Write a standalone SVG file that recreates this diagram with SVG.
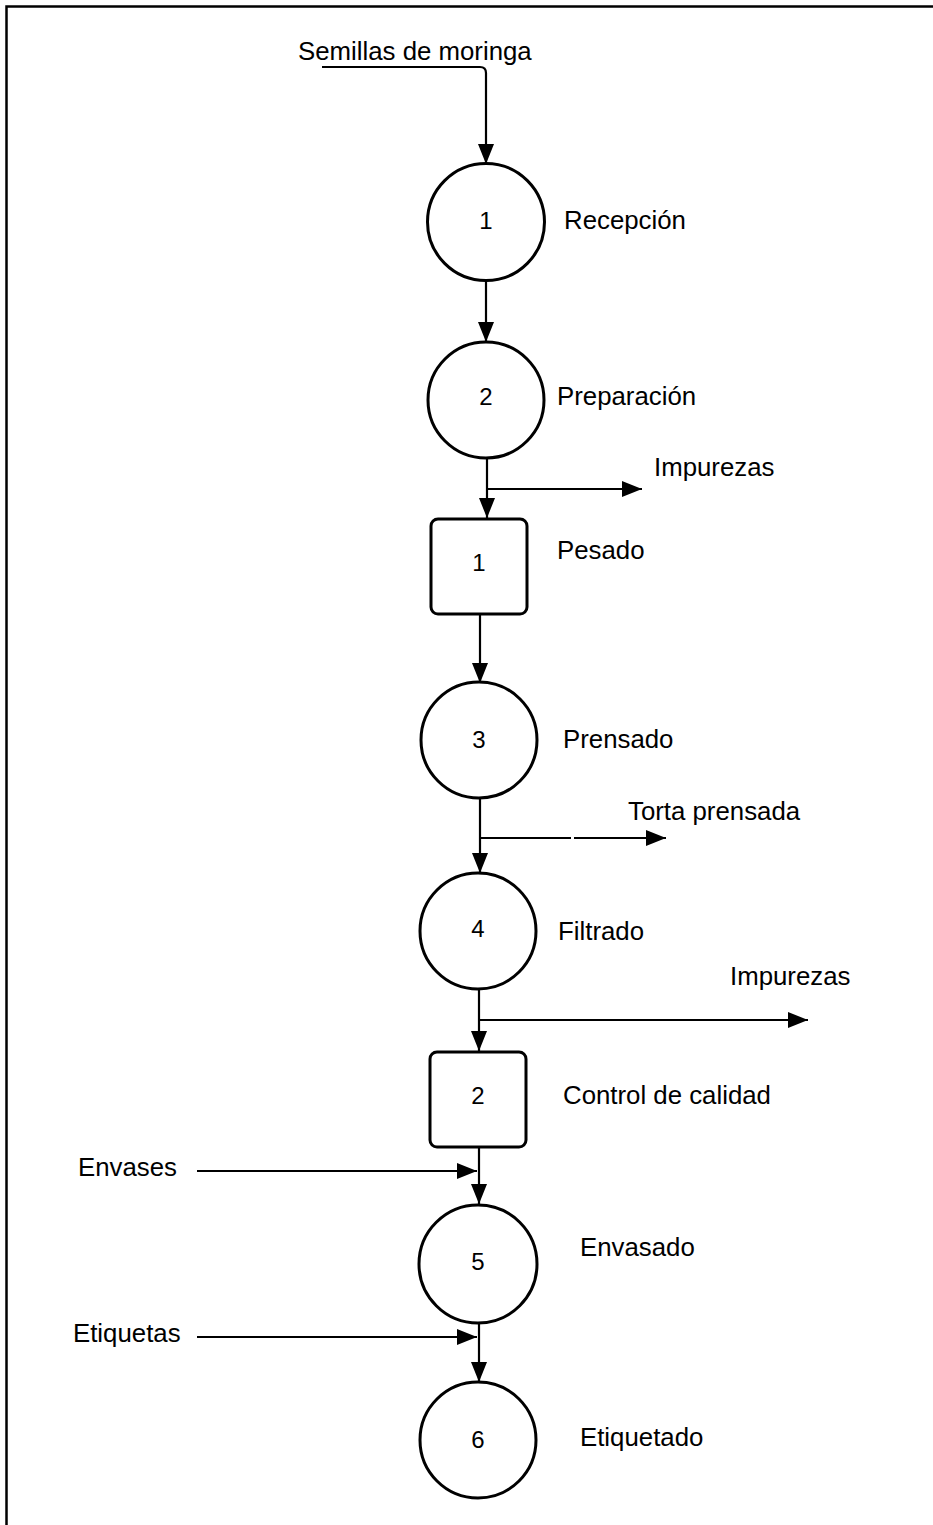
<svg xmlns="http://www.w3.org/2000/svg" width="933" height="1525" viewBox="0 0 933 1525">
<style>
.shape{fill:#fff;stroke:#000;stroke-width:3}
.line{fill:none;stroke:#000;stroke-width:2.2}
text{font-family:"Liberation Sans",Arial,sans-serif;font-size:25.8px;fill:#000}
.num{text-anchor:middle;font-size:24px}
</style>
<defs>
<marker id="ah" markerUnits="userSpaceOnUse" markerWidth="22" markerHeight="18" refX="20" refY="8" orient="auto">
<path d="M0,0 L20,8 L0,16 Z" fill="#000"/>
</marker>
</defs>
<rect width="933" height="1525" fill="#fff"/>
<path d="M6.5,1525 V6.5 H933" fill="none" stroke="#000" stroke-width="2.5"/>

<g id="connectors">
<path class="line" d="M322,67 H480 Q486,67 486,73 V164" marker-end="url(#ah)"/>
<path class="line" d="M486,281 V342" marker-end="url(#ah)"/>
<path class="line" d="M487,458 V518" marker-end="url(#ah)"/>
<path class="line" d="M487,489 H642" marker-end="url(#ah)"/>
<path class="line" d="M480,614 V683" marker-end="url(#ah)"/>
<path class="line" d="M480,798 V873" marker-end="url(#ah)"/>
<path class="line" d="M480,838 H571"/>
<path class="line" d="M574,838 H666" marker-end="url(#ah)"/>
<path class="line" d="M479,989 V1051" marker-end="url(#ah)"/>
<path class="line" d="M479,1020 H808" marker-end="url(#ah)"/>
<path class="line" d="M479,1147 V1204" marker-end="url(#ah)"/>
<path class="line" d="M197,1171 H477" marker-end="url(#ah)"/>
<path class="line" d="M479,1322 V1382" marker-end="url(#ah)"/>
<path class="line" d="M197,1337 H477" marker-end="url(#ah)"/>
</g>

<g id="input-semillas"><text x="298" y="60">Semillas de moringa</text></g>

<g id="op1"><circle class="shape" cx="486" cy="222" r="58.5"/><text class="num" x="486" y="229">1</text><text x="564" y="229">Recepción</text></g>
<g id="op2"><circle class="shape" cx="486" cy="400" r="58"/><text class="num" x="486" y="405">2</text><text x="557" y="405">Preparación</text></g>
<g id="out-impurezas1"><text x="654" y="476">Impurezas</text></g>
<g id="insp1"><rect class="shape" x="431" y="519" width="96" height="95" rx="7"/><text class="num" x="479" y="571">1</text><text x="557" y="559">Pesado</text></g>
<g id="op3"><circle class="shape" cx="479" cy="740" r="58"/><text class="num" x="479" y="748">3</text><text x="563" y="748">Prensado</text></g>
<g id="out-torta"><text x="628" y="820">Torta prensada</text></g>
<g id="op4"><circle class="shape" cx="478" cy="931" r="58"/><text class="num" x="478" y="937">4</text><text x="558" y="940">Filtrado</text></g>
<g id="out-impurezas2"><text x="730" y="985">Impurezas</text></g>
<g id="insp2"><rect class="shape" x="430" y="1052" width="96" height="95" rx="7"/><text class="num" x="478" y="1104">2</text><text x="563" y="1104">Control de calidad</text></g>
<g id="in-envases"><text x="78" y="1176">Envases</text></g>
<g id="op5"><circle class="shape" cx="478" cy="1264" r="59"/><text class="num" x="478" y="1270">5</text><text x="580" y="1256">Envasado</text></g>
<g id="in-etiquetas"><text x="73" y="1342">Etiquetas</text></g>
<g id="op6"><circle class="shape" cx="478" cy="1440" r="58"/><text class="num" x="478" y="1448">6</text><text x="580" y="1446">Etiquetado</text></g>
</svg>
